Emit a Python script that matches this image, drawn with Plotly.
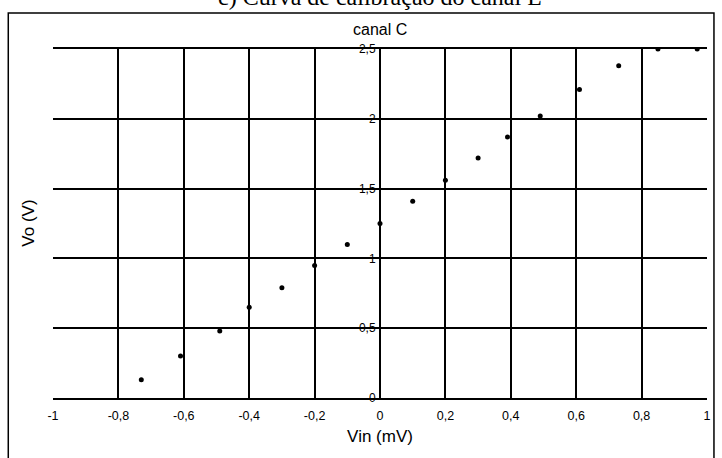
import plotly.graph_objects as go

# Data
vin = [-0.73, -0.61, -0.49, -0.40, -0.30, -0.20, -0.10, 0.00, 0.10, 0.20,
       0.30, 0.39, 0.49, 0.61, 0.73, 0.85, 0.97]
vo = [0.13, 0.30, 0.48, 0.65, 0.79, 0.95, 1.10, 1.25, 1.41, 1.56,
      1.72, 1.87, 2.02, 2.21, 2.38, 2.50, 2.50]

x_tickvals = [-1, -0.8, -0.6, -0.4, -0.2, 0, 0.2, 0.4, 0.6, 0.8, 1]
x_ticktext = ["-1", "-0,8", "-0,6", "-0,4", "-0,2", "0", "0,2", "0,4", "0,6", "0,8", "1"]
y_tickvals = [0, 0.5, 1, 1.5, 2, 2.5]
y_ticktext = ["0", "0,5", "1", "1,5", "2", "2,5"]

fig = go.Figure()
fig.add_trace(go.Scatter(
    x=vin, y=vo, mode="markers",
    marker=dict(color="black", size=5),
    showlegend=False,
))

font = "Liberation Sans, Arial, sans-serif"

fig.update_layout(
    width=722, height=458,
    margin=dict(l=53, r=11, t=49, b=60),
    paper_bgcolor="white", plot_bgcolor="white",
    font=dict(family=font, color="black", size=12),
    xaxis=dict(
        range=[-1, 1], tickvals=x_tickvals, ticktext=x_ticktext,
        showgrid=True, gridcolor="black", gridwidth=2,
        showline=True, linecolor="black", linewidth=2, mirror=True,
        zeroline=False, ticks="", tickfont=dict(size=12.5),
        ticklabelstandoff=5,
        title=dict(text="Vin (mV)", font=dict(size=17), standoff=8),
    ),
    yaxis=dict(
        range=[0, 2.5], tickvals=y_tickvals, ticktext=y_ticktext,
        showgrid=True, gridcolor="black", gridwidth=2,
        showline=True, linecolor="black", linewidth=2, mirror=True,
        zeroline=False, ticks="", tickfont=dict(size=12),
        anchor="free", position=0.5, side="left",
        ticklabelstandoff=1,
    ),
    shapes=[
        dict(type="line", xref="x", yref="paper", x0=0, x1=0, y0=0, y1=1,
             line=dict(color="black", width=2)),
        dict(type="rect", xref="paper", yref="paper",
             x0=-45 / 658, x1=1 + 7 / 658, y0=-70 / 349, y1=1 + 36 / 349,
             line=dict(color="black", width=1.5)),
    ],
    annotations=[
        dict(text="canal C", xref="paper", yref="paper", x=0.5, y=1 + 9 / 349,
             xanchor="center", yanchor="bottom", showarrow=False,
             font=dict(size=16, family=font)),
        dict(text="Vo (V)", xref="paper", yref="paper", x=-25 / 658, y=0.5,
             xanchor="center", yanchor="middle", textangle=-90, showarrow=False,
             font=dict(size=17, family=font)),
        dict(text="c) Curva de calibração do canal L", xref="paper", yref="paper",
             x=0.5, y=1 + 37 / 349, xanchor="center", yanchor="bottom", showarrow=False,
             font=dict(size=24, family="Liberation Serif, serif")),
    ],
)

fig.write_html("out.html", config={"displayModeBar": False},
               post_script="document.body.style.margin='0';")
